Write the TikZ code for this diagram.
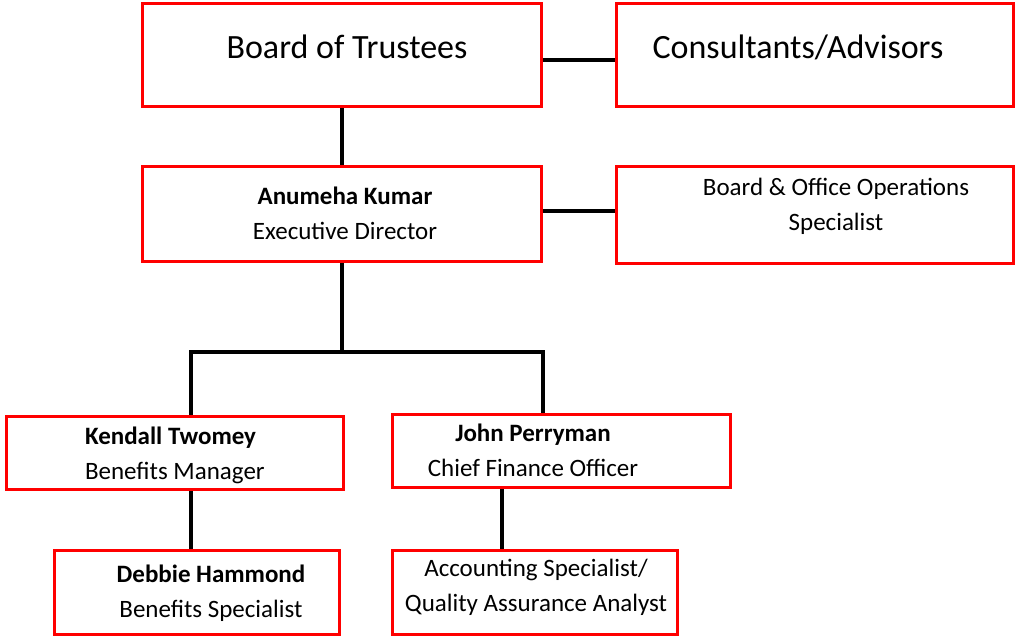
\documentclass[tikz,border=0pt]{standalone}
\usepackage{fontspec}
\setmainfont{Carlito}
\begin{document}
\begin{tikzpicture}[x=0.5pt,y=-0.5pt,
    post/.style={draw=red,line width=1.5pt,rectangle,inner sep=0pt},
    big/.style={font=\fontsize{17}{20}\selectfont},
    small/.style={font=\fontsize{12.5}{17.5}\selectfont,align=center},
    link/.style={draw=black,line width=1.6pt}]
  \useasboundingbox (0,0) rectangle (1017,638);
  % boxes
  \node[post,minimum width=199.5pt,minimum height=51.5pt] (bot) at (342,55) {};
  \node[post,minimum width=198.5pt,minimum height=51.5pt] (cons) at (815,55) {};
  \node[post,minimum width=199.5pt,minimum height=47.5pt] (ed) at (342,214) {};
  \node[post,minimum width=198.5pt,minimum height=48.5pt] (ops) at (815,215) {};
  \node[post,minimum width=168.5pt,minimum height=36.5pt] (ben) at (175,453) {};
  \node[post,minimum width=169pt,minimum height=36.5pt] (cfo) at (561.5,451) {};
  \node[post,minimum width=142.5pt,minimum height=42pt] (spec) at (197,592.5) {};
  \node[post,minimum width=142.5pt,minimum height=42pt] (acct) at (535,592.5) {};
  % texts
  \node[big] (botT) at (347,47) {Board of Trustees};
  \node[big] (consT) at (798,47) {Consultants/Advisors};
  \node[small] (edT) at (345,213) {\textbf{Anumeha Kumar}\\Executive Director};
  \node[small] (opsT) at (836,206) {Board \& Office Operations\\Specialist};
  \node[small,align=left,anchor=west] (benT) at (78,455) {\textbf{Kendall Twomey}\\Benefits Manager};
  \node[small] (cfoT) at (533,450) {\textbf{John Perryman}\\Chief Finance Officer};
  \node[small] (specT) at (211,593) {\textbf{Debbie Hammond}\\Benefits Specialist};
  \node[small] (acctT) at (536,587) {Accounting Specialist/\\Quality Assurance Analyst};
  % connectors
  \coordinate (bus) at (342,352);
  \coordinate (busL) at (191,352);
  \coordinate (busR) at (543,352);
  \coordinate (acctX) at (502,520);
  \begin{scope}[link]
    \draw ([yshift=-2.5pt]bot.east) -- ([yshift=-2.5pt]cons.west);
    \draw (bot) -- (ed);
    \draw ([yshift=1.5pt]ed.east) -- ([yshift=1.5pt]ed.east -| ops.west);
    \draw (ed.south) -- (bus);
    \draw (ben.north -| busL) -- (busL) -- (busR) -- (cfo.north -| busR);
    \draw (ben.south -| busL) -- (spec.north -| busL);
    \draw (cfo.south -| acctX) -- (acct.north -| acctX);
  \end{scope}
\end{tikzpicture}
\end{document}
